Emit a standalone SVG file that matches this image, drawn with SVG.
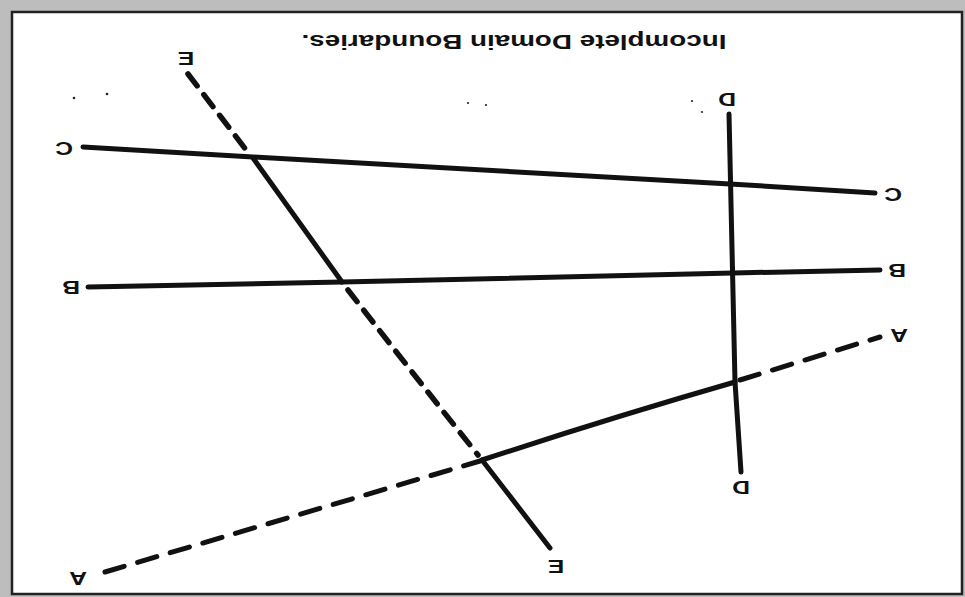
<svg xmlns="http://www.w3.org/2000/svg" width="965" height="597" viewBox="0 0 965 597">
<style>
.lbl{font-family:"Liberation Sans",Arial,sans-serif;font-size:19px;font-weight:bold;fill:#111;text-anchor:middle;dominant-baseline:central}
.ttl{font-family:"Liberation Sans",Arial,sans-serif;font-size:21px;font-weight:bold;fill:#111;text-anchor:middle;dominant-baseline:central}
.s{stroke:#111;stroke-width:5;fill:none;stroke-linecap:round}
.dA{stroke:#111;stroke-width:5;fill:none;stroke-dasharray:20 14;stroke-linecap:round}
.dE{stroke:#111;stroke-width:5.5;fill:none;stroke-dasharray:15 11;stroke-linecap:round}
</style>
<rect x="0" y="0" width="965" height="597" fill="#bdbdbd"/>
<rect x="12" y="12" width="950" height="582" fill="#ffffff" stroke="#222" stroke-width="2.5"/>
<g id="title"><text class="ttl" transform="translate(514,42) rotate(180)" textLength="425" lengthAdjust="spacingAndGlyphs">Incomplete Domain Boundaries.</text></g>
<g id="dots" fill="#222">
<circle cx="74" cy="98" r="1.3"/><circle cx="107" cy="94" r="1.3"/>
<circle cx="468" cy="103" r="1.1"/><circle cx="486" cy="105" r="1.1"/>
<circle cx="692" cy="101" r="1.1"/><circle cx="702" cy="112" r="1.1"/>
</g>
<g id="connectors">
<g id="lineC"><path class="s" d="M83,147 L253,157 L730,184 L875,193"/></g>
<g id="lineB"><path class="s" d="M88,287 L342,282 L733,273 L880,270"/></g>
<g id="lineD"><path class="s" stroke-width="6.5" d="M729,114 L735,382 L741,472"/></g>
<g id="lineA">
<path class="dA" d="M105,572 L480,461"/>
<path class="s" d="M482,460 Q610,418 735,382"/>
<path class="dA" d="M740,380 L880,337"/>
</g>
<g id="lineE">
<path class="dE" d="M188,74 L250,155"/>
<path class="s" d="M253,158 L342,282"/>
<path class="dE" d="M348,290 Q410,370 478,455"/>
<path class="s" d="M482,460 L550,548"/>
</g>
</g>
<g id="labelA1"><text class="lbl" transform="translate(78,578) rotate(180) scale(1.3,1)">A</text></g>
<g id="labelA2"><text class="lbl" transform="translate(899,335) rotate(180) scale(1.3,1)">A</text></g>
<g id="labelB1"><text class="lbl" transform="translate(71,287) rotate(180) scale(1.3,1)">B</text></g>
<g id="labelB2"><text class="lbl" transform="translate(897,270) rotate(180) scale(1.3,1)">B</text></g>
<g id="labelC1"><text class="lbl" transform="translate(64,148) rotate(180) scale(1.3,1)">C</text></g>
<g id="labelC2"><text class="lbl" transform="translate(893,194) rotate(180) scale(1.3,1)">C</text></g>
<g id="labelD1"><text class="lbl" transform="translate(727,99) rotate(180) scale(1.3,1)">D</text></g>
<g id="labelD2"><text class="lbl" transform="translate(741,487) rotate(180) scale(1.3,1)">D</text></g>
<g id="labelE1"><text class="lbl" transform="translate(186,58) rotate(180) scale(1.3,1)">E</text></g>
<g id="labelE2"><text class="lbl" transform="translate(556,566) rotate(180) scale(1.3,1)">E</text></g>
</svg>
